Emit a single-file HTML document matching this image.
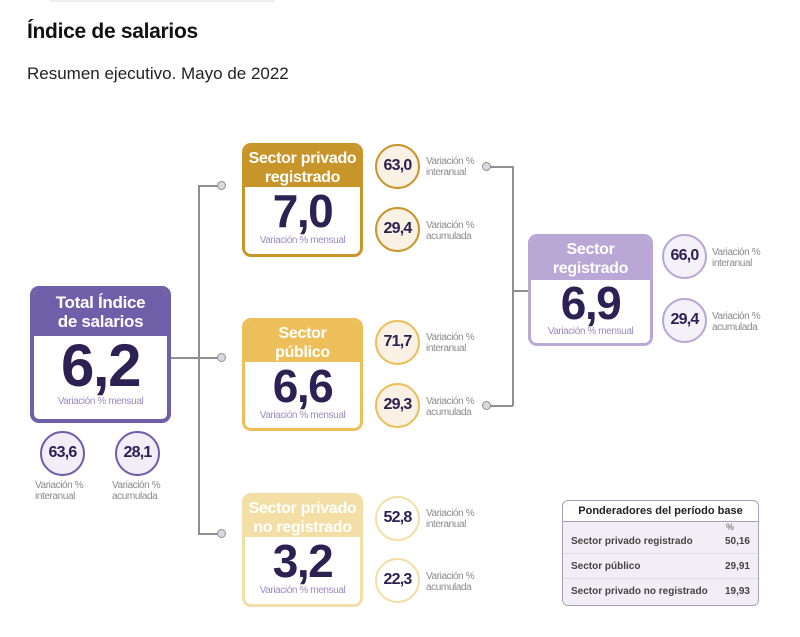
<!DOCTYPE html>
<html><head><meta charset="utf-8"><style>
*{box-sizing:border-box;margin:0;padding:0}
body{width:800px;height:637px;background:#fff;position:relative;overflow:hidden;font-family:"Liberation Sans",Arial,sans-serif}
.a{position:absolute}
.box{position:absolute;border-radius:9px;border:3px solid;background:#fff;overflow:hidden}
.hd{color:#fff;font-weight:bold;text-align:center;font-size:16px;line-height:19px;padding-top:3px;letter-spacing:-0.3px}
.num{text-align:center;font-weight:bold;color:#2b2152;letter-spacing:-1.5px}
.mens{text-align:center;color:#9c8ac3;font-size:10px;letter-spacing:-0.4px}
.c{position:absolute;border-radius:50%;border:2.5px solid;text-align:center;font-weight:bold;color:#2b2152;font-size:16px;letter-spacing:-0.8px}
.lbl{position:absolute;font-size:10px;line-height:11px;color:#8a8a8a;letter-spacing:-0.4px}
.ln{position:absolute;background:#8f8f8f}
.dot{position:absolute;width:9px;height:9px;border-radius:50%;border:1.5px solid #8f8f8f;background:#d8d8e0}
</style></head><body>
<div class="a" style="left:50px;top:0;width:225px;height:2px;background:#eee"></div>
<div class="a" style="left:27px;top:20px;font-size:21px;font-weight:bold;color:#111;letter-spacing:-0.3px">Índice de salarios</div>
<div class="a" style="left:27px;top:64px;font-size:17px;color:#222">Resumen ejecutivo. Mayo de 2022</div>

<div class="ln" style="left:198px;top:185px;width:1.5px;height:349px"></div>
<div class="ln" style="left:170px;top:357px;width:29px;height:1.5px"></div>
<div class="ln" style="left:198px;top:185px;width:20px;height:1.5px"></div>
<div class="ln" style="left:198px;top:357px;width:20px;height:1.5px"></div>
<div class="ln" style="left:198px;top:533px;width:20px;height:1.5px"></div>
<div class="dot" style="left:217px;top:181px"></div>
<div class="dot" style="left:217px;top:353px"></div>
<div class="dot" style="left:217px;top:529px"></div>
<div class="ln" style="left:512px;top:166px;width:1.5px;height:240px"></div>
<div class="ln" style="left:490px;top:166px;width:23px;height:1.5px"></div>
<div class="ln" style="left:490px;top:405px;width:23px;height:1.5px"></div>
<div class="ln" style="left:512px;top:290px;width:17px;height:1.5px"></div>
<div class="dot" style="left:482px;top:162px"></div>
<div class="dot" style="left:482px;top:401px"></div>

<div class="box" style="left:30px;top:286px;width:141px;height:137px;border-color:#6f5fa8;border-width:4px">
 <div class="hd" style="background:#6f5fa8;height:46px;font-size:17px;line-height:19px">Total Índice<br>de salarios</div>
 <div class="num" style="font-size:60px;line-height:60px">6,2</div>
 <div class="mens">Variación % mensual</div>
</div>
<div class="c" style="left:40px;top:431px;width:45px;height:45px;line-height:40px;border-color:#6f5fa8;background:#f1eef8">63,6</div>
<div class="c" style="left:115px;top:431px;width:45px;height:45px;line-height:40px;border-color:#6f5fa8;background:#f1eef8">28,1</div>
<div class="lbl" style="left:35px;top:480px">Variación %<br>interanual</div>
<div class="lbl" style="left:112px;top:480px">Variación %<br>acumulada</div>

<div class="box" style="left:242px;top:143px;width:121px;height:114px;border-color:#c8952a">
 <div class="hd" style="background:#c8952a;height:41px">Sector privado<br>registrado</div>
 <div class="num" style="font-size:46px;line-height:48px">7,0</div>
 <div class="mens">Variación % mensual</div>
</div>
<div class="box" style="left:242px;top:318px;width:121px;height:113px;border-color:#ecbf5a">
 <div class="hd" style="background:#ecbf5a;height:41px">Sector<br>público</div>
 <div class="num" style="font-size:46px;line-height:48px">6,6</div>
 <div class="mens">Variación % mensual</div>
</div>
<div class="box" style="left:242px;top:493px;width:121px;height:114px;border-color:#f3dfa6">
 <div class="hd" style="background:#f3dfa6;height:41px">Sector privado<br>no registrado</div>
 <div class="num" style="font-size:46px;line-height:48px">3,2</div>
 <div class="mens">Variación % mensual</div>
</div>

<div class="c" style="left:375px;top:144px;width:45px;height:45px;line-height:40px;border-color:#c8952a;background:#f8f1e4">63,0</div>
<div class="c" style="left:375px;top:207px;width:45px;height:45px;line-height:40px;border-color:#c8952a;background:#f8f1e4">29,4</div>
<div class="c" style="left:375px;top:320px;width:45px;height:45px;line-height:40px;border-color:#ecbf5a;background:#f8f1e4">71,7</div>
<div class="c" style="left:375px;top:383px;width:45px;height:45px;line-height:40px;border-color:#ecbf5a;background:#f8f1e4">29,3</div>
<div class="c" style="left:375px;top:496px;width:45px;height:45px;line-height:40px;border-color:#f3dfa6;background:#fff">52,8</div>
<div class="c" style="left:375px;top:558px;width:45px;height:45px;line-height:40px;border-color:#f3dfa6;background:#fff">22,3</div>
<div class="lbl" style="left:426px;top:156px">Variación %<br>interanual</div>
<div class="lbl" style="left:426px;top:220px">Variación %<br>acumulada</div>
<div class="lbl" style="left:426px;top:332px">Variación %<br>interanual</div>
<div class="lbl" style="left:426px;top:396px">Variación %<br>acumulada</div>
<div class="lbl" style="left:426px;top:508px">Variación %<br>interanual</div>
<div class="lbl" style="left:426px;top:571px">Variación %<br>acumulada</div>

<div class="box" style="left:528px;top:234px;width:125px;height:112px;border-color:#b9a7d6">
 <div class="hd" style="background:#b9a7d6;height:43px">Sector<br>registrado</div>
 <div class="num" style="font-size:46px;line-height:46px">6,9</div>
 <div class="mens">Variación % mensual</div>
</div>
<div class="c" style="left:662px;top:234px;width:45px;height:45px;line-height:40px;border-color:#b9a7d6;background:#f4f1f9">66,0</div>
<div class="c" style="left:662px;top:298px;width:45px;height:45px;line-height:40px;border-color:#b9a7d6;background:#f4f1f9">29,4</div>
<div class="lbl" style="left:712px;top:247px">Variación %<br>interanual</div>
<div class="lbl" style="left:712px;top:311px">Variación %<br>acumulada</div>

<div class="a" style="left:562px;top:500px;width:197px;height:106px;border:1.5px solid #a8a0bf;border-radius:6px;overflow:hidden;font-size:10px;color:#444;font-weight:bold">
 <div style="text-align:center;font-size:11px;color:#222;height:21px;line-height:21px;border-bottom:1.5px solid #a8a0bf">Ponderadores del período base</div>
 <div style="background:#f1eff5;height:83px">
  <div style="text-align:right;padding-right:24px;font-size:9px;color:#888;height:10px;line-height:10px">%</div>
  <div style="display:flex;justify-content:space-between;padding:0 8px;height:22px;line-height:20px;border-bottom:1px solid #ddd"><span>Sector privado registrado</span><span>50,16</span></div>
  <div style="display:flex;justify-content:space-between;padding:0 8px;height:25px;line-height:25px;border-bottom:1px solid #ddd"><span>Sector público</span><span>29,91</span></div>
  <div style="display:flex;justify-content:space-between;padding:0 8px;height:25px;line-height:25px"><span>Sector privado no registrado</span><span>19,93</span></div>
 </div>
</div>
</body></html>
